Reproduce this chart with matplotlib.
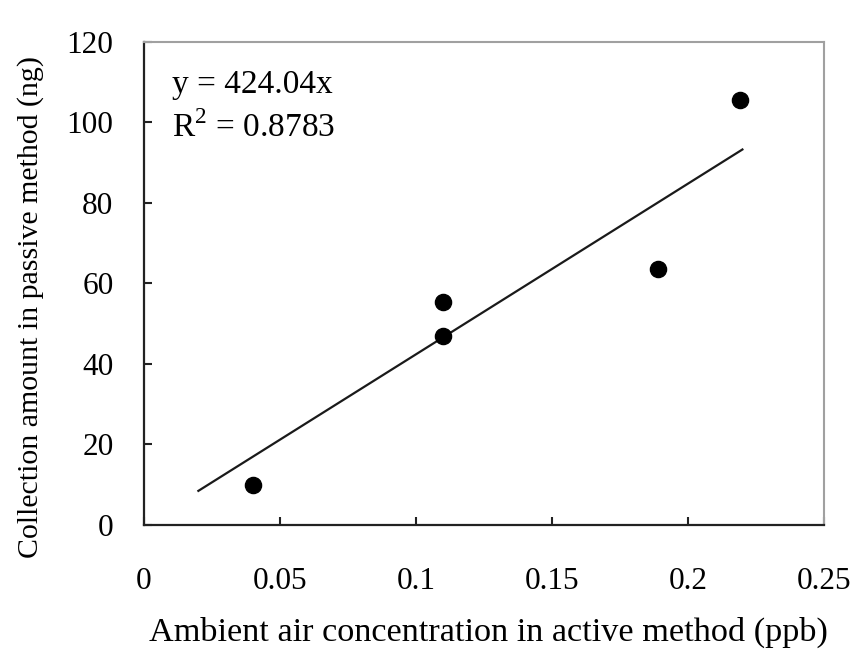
import matplotlib
matplotlib.use("Agg")
import matplotlib.pyplot as plt
import numpy as np

plt.rcParams["font.family"] = ["Liberation Serif", "DejaVu Serif"]
plt.rcParams["mathtext.fontset"] = "custom"
plt.rcParams["mathtext.rm"] = "Liberation Serif"

# data
active_ppb = [0.04, 0.11, 0.11, 0.189, 0.219]
passive_ng = [10.0, 55.5, 47.0, 63.5, 105.5]
slope = 424.04
r_squared = 0.8783
fit_range = [0.02, 0.22]
x_ticks = [0, 0.05, 0.1, 0.15, 0.2, 0.25]
x_tick_labels = ["0", "0.05", "0.1", "0.15", "0.2", "0.25"]
y_ticks = [0, 20, 40, 60, 80, 100, 120]

fig = plt.figure(figsize=(8.57, 6.56), dpi=100)
ax = fig.add_axes([0.168, 0.1997, 0.7935, 0.7363])

fit_x = np.array(fit_range)
ax.plot(fit_x, slope * fit_x, color="#1a1a1a", lw=1.6, zorder=2)
ax.scatter(active_ppb, passive_ng, s=135, color="black", zorder=3)

ax.set_xlim(0, 0.25)
ax.set_ylim(0, 120)
ax.set_xticks(x_ticks)
ax.set_xticklabels(x_tick_labels)
ax.set_yticks(y_ticks)

ax.tick_params(direction="in", length=6, width=1.5, labelsize=22.5, color="#222222")
ax.tick_params(axis="x", pad=30)
ax.tick_params(axis="y", pad=22)

for side in ("left", "bottom"):
    ax.spines[side].set_color("#222222")
    ax.spines[side].set_linewidth(1.6)
for side in ("top", "right"):
    ax.spines[side].set_color("#a0a0a0")
    ax.spines[side].set_linewidth(1.5)

ax.set_xlabel("Ambient air concentration in active method (ppb)", fontsize=24.7)
ax.set_ylabel("Collection amount in passive method (ng)", fontsize=21.5)
ax.xaxis.set_label_coords(0.506, -0.19)
ax.yaxis.set_label_coords(-0.147, 0.451)

ax.text(0.041, 0.912, f"y = {slope:.2f}x", transform=ax.transAxes, fontsize=24, va="center")
ax.text(0.041, 0.822, f"R$^2$ = {r_squared:.4f}", transform=ax.transAxes, fontsize=24, va="center")

fig.savefig("out.png", dpi=100)
